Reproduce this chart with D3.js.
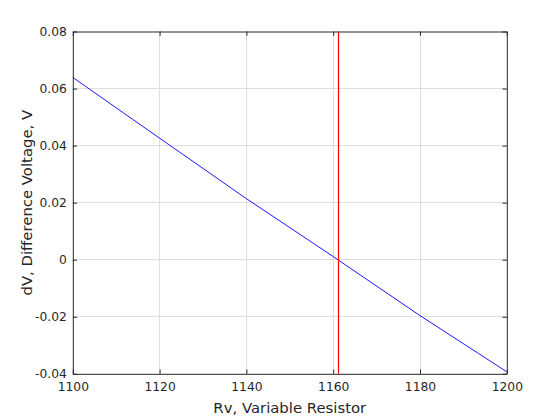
<!DOCTYPE html>
<html><head><meta charset="utf-8">
<script src="https://cdn.jsdelivr.net/npm/d3@7"></script>
<style>body{margin:0;background:#fff}svg{display:block}text{font-family:"DejaVu Sans",sans-serif;}</style>
</head><body>
<svg id="c" width="560" height="420"></svg>
<script>
const rv = [1100, 1120, 1140, 1160, 1180, 1200];
const dV = [0.0639, 0.0426, 0.0214, 0.0011, -0.0196, -0.0393];
const balanceRv = 1161;
const xTicks = [1100, 1120, 1140, 1160, 1180, 1200];
const yTicks = [-0.04, -0.02, 0, 0.02, 0.04, 0.06, 0.08];
const yTickLabels = ["-0.04", "-0.02", "0", "0.02", "0.04", "0.06", "0.08"];

const svg = d3.select("#c");
const L = 72.8, R = 506.8, T = 31.5, B = 373.8;
const x = d3.scaleLinear().domain([1100, 1200]).range([L, R]);
const y = d3.scaleLinear().domain([-0.04, 0.08]).range([B, T]);
const grid = "#dfdfdf", ax = "#262626";

// gridlines
svg.append("g").selectAll("line").data(xTicks.slice(1, -1)).join("line")
  .attr("x1", d => x(d)).attr("x2", d => x(d)).attr("y1", T).attr("y2", B)
  .attr("stroke", grid).attr("stroke-width", 1).attr("shape-rendering", "crispEdges");
svg.append("g").selectAll("line").data(yTicks.slice(1, -1)).join("line")
  .attr("y1", d => y(d)).attr("y2", d => y(d)).attr("x1", L).attr("x2", R)
  .attr("stroke", grid).attr("stroke-width", 1).attr("shape-rendering", "crispEdges");

// data line
const pts = rv.map((v, i) => [v, dV[i]]);
svg.append("path").datum(pts)
  .attr("d", d3.line().x(d => x(d[0])).y(d => y(d[1])))
  .attr("fill", "none").attr("stroke", "#0000ff").attr("stroke-width", 0.9);

// balance line
const bx = Math.round(x(balanceRv)) + 0.5;
svg.append("line").attr("class", "balance")
  .attr("x1", bx).attr("x2", bx)
  .attr("y1", y(0.08)).attr("y2", y(-0.04))
  .style("stroke", "#ff0000").style("stroke-width", "1.2px");

// axes
const tl = 4.3;
const fmtY = d => yTickLabels[yTicks.indexOf(d)];
const gB = svg.append("g").attr("transform", `translate(0,${B})`)
  .call(d3.axisBottom(x).tickValues(xTicks).tickFormat(d3.format("d")).tickSizeInner(-tl).tickSizeOuter(0).tickPadding(8));
const gTop = svg.append("g").attr("transform", `translate(0,${T})`)
  .call(d3.axisTop(x).tickValues(xTicks).tickFormat("").tickSizeInner(-tl).tickSizeOuter(0));
const gL = svg.append("g").attr("transform", `translate(${L},0)`)
  .call(d3.axisLeft(y).tickValues(yTicks).tickFormat(fmtY).tickSizeInner(-tl).tickSizeOuter(0).tickPadding(6));
const gR = svg.append("g").attr("transform", `translate(${R},0)`)
  .call(d3.axisRight(y).tickValues(yTicks).tickFormat("").tickSizeInner(-tl).tickSizeOuter(0));
[gB, gTop, gL, gR].forEach(g => {
  g.selectAll("path").attr("stroke", ax).attr("stroke-width", 1);
  g.selectAll("line").attr("stroke", ax);
  g.selectAll("text").attr("fill", ax).style("font-size", "12.3px").style("font-family", "'DejaVu Sans',sans-serif");
});

// labels
const xl = svg.append("text").attr("x", (L + R) / 2).attr("y", 412.7).attr("text-anchor", "middle")
  .attr("fill", ax).style("font-size", "13.8px").text("Rv, Variable Resistor");
const w = xl.node().getComputedTextLength();
const fs = Math.min(16, Math.max(12, 13.8 * 153 / w));
xl.style("font-size", fs + "px");
svg.append("text").attr("transform", `translate(32.3,${(T + B) / 2}) rotate(-90)`).attr("text-anchor", "middle")
  .attr("fill", ax).style("font-size", fs + "px").text("dV, Difference Voltage, V");
</script>
</body></html>
